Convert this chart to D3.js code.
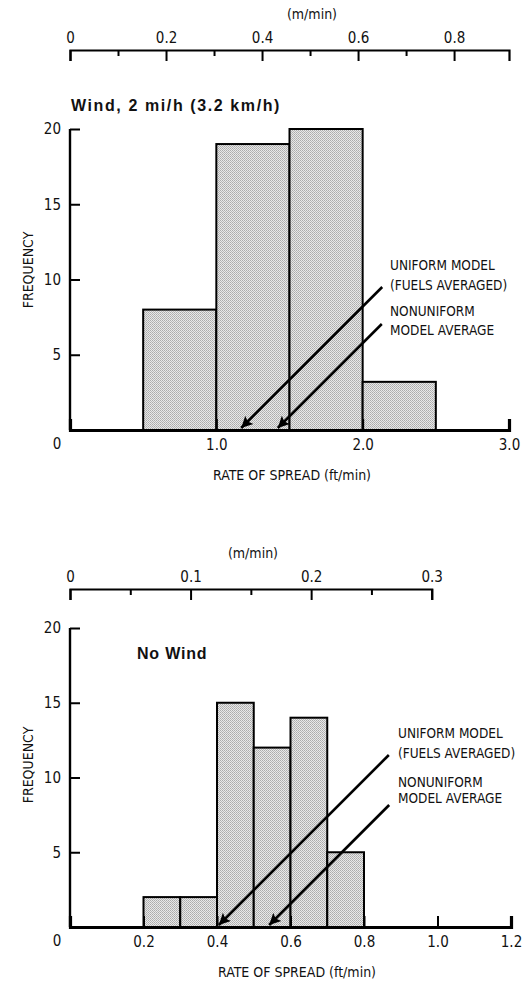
<!DOCTYPE html>
<html>
<head>
<meta charset="utf-8">
<script src="https://cdn.jsdelivr.net/npm/d3@7"></script>
<style>
  body { margin: 0; background: #fff; }
  svg text { fill: #111; }
  .cond { font-family: "Liberation Sans Narrow", "DejaVu Sans Condensed", "Liberation Sans", sans-serif; font-stretch: condensed; }
  .title { font-family: "Liberation Sans", Arial, sans-serif; font-weight: bold; }
</style>
</head>
<body>
<div id="chart"></div>
<script>
// --- data ---
var FT_TO_M = 0.3048;

// wind 2 mi/h panel
var windBins = [0.5, 1.0, 1.5, 2.0];        // left edge of each class (ft/min)
var windCounts = [8, 19, 20, 3.2];
var windBinWidth = 0.5;
var windFtTicks = [0, 1.0, 2.0, 3.0];
var windMTicks = [0, 0.2, 0.4, 0.6, 0.8];
var windMMinor = [0.1, 0.3, 0.5, 0.7];
var windUniform = 1.17;      // arrow for uniform model
var windNonuniform = 1.42;   // arrow for nonuniform model average

// no wind panel
var calmBins = [0.2, 0.3, 0.4, 0.5, 0.6, 0.7];
var calmCounts = [2, 2, 15, 12, 14, 5];
var calmBinWidth = 0.1;
var calmFtTicks = [0, 0.2, 0.4, 0.6, 0.8, 1.0, 1.2];
var calmMTicks = [0, 0.1, 0.2, 0.3];
var calmMMinor = [0.05, 0.15, 0.25];
var calmUniform = 0.405;
var calmNonuniform = 0.542;

var freqTicks = [5, 10, 15, 20];
var notes = ["UNIFORM MODEL", "(FUELS AVERAGED)", "NONUNIFORM", "MODEL AVERAGE"];

var svg = d3.select("#chart").append("svg")
  .attr("width", 526)
  .attr("height", 987);

// stipple fill for the bars
var defs = svg.append("defs");
var pat = defs.append("pattern")
  .attr("id", "stipple")
  .attr("patternUnits", "userSpaceOnUse")
  .attr("width", 2).attr("height", 2);
pat.append("rect").attr("width", 2).attr("height", 2).attr("fill", "#e8e8e8");
pat.append("rect").attr("width", 1).attr("height", 1).attr("fill", "#ababab");
pat.append("rect").attr("x", 1).attr("y", 1).attr("width", 1).attr("height", 1).attr("fill", "#b8b8b8");

defs.append("marker")
  .attr("id", "head")
  .attr("viewBox", "0 0 10 10")
  .attr("refX", 10).attr("refY", 5)
  .attr("markerWidth", 5).attr("markerHeight", 4.4)
  .attr("markerUnits", "strokeWidth")
  .attr("orient", "auto")
  .append("path")
  .attr("d", "M0,0 L10,5 L0,10 L2,5 Z")
  .attr("fill", "#000");

function panel(p) {
  var x = d3.scaleLinear().domain([0, p.ftMax]).range([70, p.xRight]);
  // metric scale shares the same origin, converted from ft/min
  var xm = d3.scaleLinear().domain([0, p.mMax]).range([70, x(p.mMax / FT_TO_M)]);
  var y = d3.scaleLinear().domain([0, 20]).range([p.yBase, p.yTop]);

  var g = svg.append("g");

  // metric scale on top
  var topAxis = g.append("g")
    .attr("transform", "translate(0," + p.mAxisY + ")")
    .call(d3.axisTop(xm).tickValues(p.mTicks).tickSizeInner(-11).tickSizeOuter(-11).tickPadding(7)
      .tickFormat(function(d) { return d === 0 ? "0" : d3.format(".1f")(d); }));
  topAxis.select(".domain").attr("stroke-width", 2.2);
  topAxis.selectAll(".tick line").attr("stroke-width", 2);
  topAxis.selectAll(".tick text").attr("class", "cond").style("font-size", "15px").attr("fill", "#111");

  var minor = g.append("g")
    .attr("transform", "translate(0," + p.mAxisY + ")")
    .call(d3.axisTop(xm).tickValues(p.mMinor).tickSize(-6).tickFormat(""));
  minor.select(".domain").remove();
  minor.selectAll(".tick line").attr("stroke-width", 2);

  g.append("text").attr("class", "cond")
    .attr("x", p.mLabelX).attr("y", p.mAxisY - 31)
    .attr("text-anchor", "middle")
    .style("font-size", "14px")
    .text("(m/min)");

  // bars
  g.selectAll(".bar")
    .data(p.bins.map(function(b, i) { return { x0: b, x1: b + p.binWidth, n: p.counts[i] }; }))
    .enter().append("rect")
    .attr("x", function(d) { return x(d.x0); })
    .attr("y", function(d) { return y(d.n); })
    .attr("width", function(d) { return x(d.x1) - x(d.x0); })
    .attr("height", function(d) { return y(0) - y(d.n); })
    .attr("fill", "url(#stipple)")
    .attr("stroke", "#000")
    .attr("stroke-width", 2);

  // frequency axis
  var yAxis = g.append("g")
    .attr("transform", "translate(70,0)")
    .call(d3.axisLeft(y).tickValues(freqTicks).tickSizeInner(-10).tickSizeOuter(0).tickPadding(9));
  yAxis.select(".domain").attr("d", "M0," + y(20) + "V" + y(0)).attr("stroke-width", 2.4);
  yAxis.selectAll(".tick line").attr("stroke-width", 2);
  yAxis.selectAll(".tick text").attr("class", "cond").style("font-size", "15px").attr("fill", "#111");

  // rate of spread axis
  var xAxis = g.append("g")
    .attr("transform", "translate(0," + p.yBase + ")")
    .call(d3.axisBottom(x).tickValues(p.ftTicks).tickSizeInner(-11).tickSizeOuter(-11).tickPadding(9)
      .tickFormat(function(d) { return d === 0 ? "" : d3.format(".1f")(d); }));
  xAxis.select(".domain").attr("stroke-width", 3.2);
  xAxis.selectAll(".tick line").attr("stroke-width", 2);
  xAxis.selectAll(".tick text").attr("class", "cond").style("font-size", "15px").attr("fill", "#111");

  g.append("text").attr("class", "cond")
    .attr("x", 57).attr("y", p.yBase + 19)
    .attr("text-anchor", "middle")
    .style("font-size", "15px")
    .text("0");

  g.append("text").attr("class", "cond")
    .attr("x", p.xTitleX).attr("y", p.yBase + 50)
    .attr("text-anchor", "middle")
    .style("font-size", "14px")
    .text("RATE OF SPREAD (ft/min)");

  g.append("text").attr("class", "cond")
    .attr("transform", "translate(33," + p.freqY + ") rotate(-90)")
    .attr("text-anchor", "middle")
    .style("font-size", "14px")
    .text("FREQUENCY");

  g.append("text").attr("class", "title")
    .attr("x", p.titleX).attr("y", p.titleY)
    .style("font-size", "16px")
    .style("letter-spacing", p.titleSpacing + "px")
    .text(p.title);

  // model arrows (45 degree leaders)
  [p.uniform, p.nonuniform].forEach(function(v, i) {
    var len = p.leaders[i];
    g.append("line")
      .attr("x1", x(v) + len).attr("y1", y(0) - 2 - len)
      .attr("x2", x(v)).attr("y2", y(0) - 2)
      .attr("stroke", "#000")
      .attr("stroke-width", 2.6)
      .attr("marker-end", "url(#head)");
  });

  var lbl = g.append("text").attr("class", "cond")
    .style("font-size", "13.5px");
  notes.forEach(function(t, i) {
    lbl.append("tspan").attr("x", p.noteX).attr("y", p.noteY[i]).text(t);
  });
}

panel({
  ftMax: 3.0, xRight: 509, yBase: 430, yTop: 129, mAxisY: 50, mLabelX: 312,
  mMax: 3.0 * FT_TO_M,
  bins: windBins, counts: windCounts, binWidth: windBinWidth,
  ftTicks: windFtTicks, mTicks: windMTicks, mMinor: windMMinor,
  uniform: windUniform, nonuniform: windNonuniform,
  leaders: [141, 104],
  title: "Wind, 2 mi/h (3.2 km/h)", titleX: 71, titleY: 111, titleSpacing: 1.6,
  xTitleX: 292, freqY: 270,
  noteX: 390, noteY: [270, 290, 316, 335]
});

panel({
  ftMax: 1.2, xRight: 511, yBase: 927, yTop: 628, mAxisY: 589, mLabelX: 253,
  mMax: 0.3,
  bins: calmBins, counts: calmCounts, binWidth: calmBinWidth,
  ftTicks: calmFtTicks, mTicks: calmMTicks, mMinor: calmMMinor,
  uniform: calmUniform, nonuniform: calmNonuniform,
  leaders: [170, 120],
  title: "No Wind", titleX: 137, titleY: 659, titleSpacing: 0.8,
  xTitleX: 297, freqY: 765,
  noteX: 398, noteY: [738, 758, 787, 803]
});
</script>
</body>
</html>
